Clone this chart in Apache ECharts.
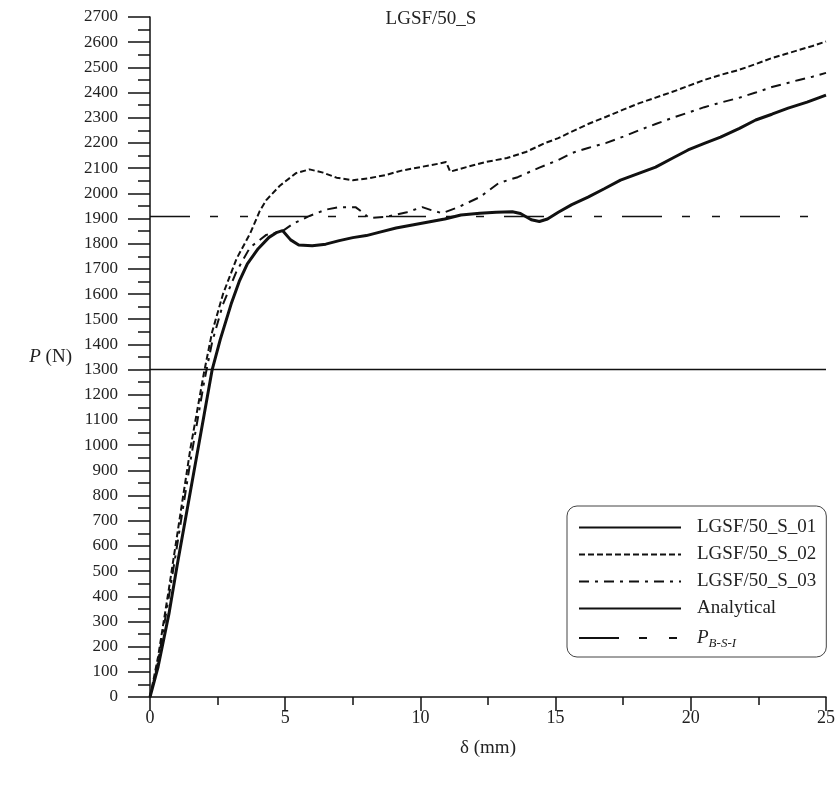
<!DOCTYPE html>
<html>
<head>
<meta charset="utf-8">
<script src="https://cdn.jsdelivr.net/npm/echarts@6/dist/echarts.min.js"></script>
<style>
html, body { margin: 0; padding: 0; background: #fff; }
#chart { width: 838px; height: 794px; }
</style>
</head>
<body>
<div id="chart"></div>
<script>
// curves, [delta (mm), P (N)]
var s01 = [[0,0],[0.3,120],[0.7,330],[1.0,520],[1.5,820],[2.0,1120],[2.3,1300],[2.6,1420],[3.0,1560],[3.3,1650],[3.6,1720],[4.0,1780],[4.4,1825],[4.7,1845],[4.9,1852],[5.2,1815],[5.5,1795],[6.0,1792],[6.5,1798],[7.0,1812],[7.5,1824],[8.0,1832],[8.5,1846],[9.1,1862],[9.7,1874],[10.3,1886],[10.9,1898],[11.5,1914],[12.2,1921],[12.8,1925],[13.4,1927],[13.7,1920],[14.1,1895],[14.4,1888],[14.7,1898],[15.1,1925],[15.6,1955],[16.2,1985],[16.8,2018],[17.4,2052],[18.1,2080],[18.7,2104],[19.3,2138],[19.9,2172],[20.5,2198],[21.1,2223],[21.8,2258],[22.4,2291],[23.0,2314],[23.6,2338],[24.3,2362],[25,2390]];
var s02 = [[0,0],[0.3,160],[0.7,430],[1.0,640],[1.5,990],[2.0,1290],[2.3,1450],[2.7,1600],[3.2,1740],[3.7,1840],[4.06,1930],[4.3,1973],[4.8,2030],[5.4,2080],[5.9,2095],[6.4,2082],[6.9,2062],[7.5,2052],[8.1,2060],[8.7,2072],[9.3,2090],[10.0,2104],[10.7,2118],[10.95,2124],[11.1,2086],[11.7,2104],[12.4,2124],[13.2,2140],[13.9,2164],[14.6,2199],[15.1,2219],[15.6,2245],[16.2,2275],[16.85,2303],[17.5,2332],[18.1,2358],[18.7,2380],[19.3,2402],[19.9,2426],[20.5,2450],[21.1,2470],[21.75,2489],[22.4,2513],[23.0,2537],[23.5,2553],[24.0,2569],[24.5,2585],[25,2603]];
var s03 = [[0,0],[0.3,140],[0.7,400],[1.0,600],[1.5,940],[2.0,1250],[2.3,1410],[2.7,1560],[3.2,1690],[3.7,1785],[4.3,1835],[4.9,1850],[5.3,1880],[5.9,1910],[6.5,1935],[7.0,1945],[7.6,1945],[7.85,1925],[8.1,1902],[8.7,1906],[9.5,1925],[10.07,1945],[10.4,1933],[10.8,1921],[11.4,1945],[12.2,1985],[12.9,2041],[13.6,2064],[14.4,2102],[15.1,2132],[15.6,2160],[16.2,2180],[16.85,2199],[17.5,2225],[18.1,2251],[18.7,2275],[19.3,2299],[19.9,2320],[20.5,2342],[21.1,2360],[21.75,2378],[22.4,2400],[23.0,2422],[23.5,2436],[24.0,2450],[24.5,2463],[25,2478]];
var analytical = [[0,1300],[25,1300]];
var pbsi = [[0,1908],[25,1908]];
var seriesNames = ['LGSF/50_S_01','LGSF/50_S_02','LGSF/50_S_03','Analytical','PBSI'];

var serif = '"Liberation Serif", "DejaVu Serif", serif';
var ink = '#111';

var chart = echarts.init(document.getElementById('chart'));

function lineSeries(name, data, width, type){
	return {
		name: name,
		type: 'line',
		data: data,
		symbol: 'none',
		silent: true,
		animation: false,
		itemStyle: { color: ink },
		lineStyle: { color: ink, width: width, type: type }
	};
}

chart.setOption({
	backgroundColor: '#fff',
	title: {
		text: 'LGSF/50_S',
		left: 426,
		textAlign: 'center',
		top: 5,
		textStyle: { fontFamily: serif, fontSize: 19, fontWeight: 'normal', color: '#222' }
	},
	grid: { left: 150, right: 10, top: 17, bottom: 97 },
	legend: {
		orient: 'vertical',
		left: 567,
		top: 506,
		padding: [12, 10, 7, 11],
		itemWidth: 102,
		itemHeight: 14,
		itemGap: 8,
		borderColor: '#444',
		borderWidth: 1,
		borderRadius: 10,
		itemStyle: { opacity: 0 },
		data: seriesNames,
		formatter: function(name){
			if(name == 'PBSI'){
				return '{p|P}{s|B-S-I}';
			}
			return name;
		},
		textStyle: {
			fontFamily: serif,
			fontSize: 19,
			lineHeight: 18,
			color: '#222',
			padding: [0, 0, 0, 11],
			rich: {
				p: { fontFamily: serif, fontSize: 19, lineHeight: 24, fontStyle: 'italic', color: '#222' },
				s: { fontFamily: serif, fontSize: 13, lineHeight: 24, fontStyle: 'italic', color: '#222', verticalAlign: 'bottom' }
			}
		}
	},
	xAxis: {
		type: 'value',
		min: 0,
		max: 25,
		interval: 5,
		name: 'δ (mm)',
		nameLocation: 'middle',
		nameGap: 42,
		nameTextStyle: { fontFamily: serif, fontSize: 19, color: '#222' },
		axisLine: { lineStyle: { color: ink, width: 1.5 } },
		axisTick: { length: 14, lineStyle: { color: ink, width: 1.5 } },
		minorTick: { show: true, splitNumber: 2, length: 8, lineStyle: { color: ink, width: 1.5 } },
		axisLabel: { fontFamily: serif, fontSize: 18, color: '#222', margin: 12 },
		splitLine: { show: false }
	},
	yAxis: {
		type: 'value',
		min: 0,
		max: 2700,
		interval: 100,
		name: '{i|P} (N)',
		nameLocation: 'middle',
		nameRotate: 0,
		nameGap: 78,
		nameTextStyle: {
			fontFamily: serif, fontSize: 19, color: '#222',
			rich: { i: { fontFamily: serif, fontSize: 19, fontStyle: 'italic', color: '#222' } }
		},
		axisLine: { show: true, lineStyle: { color: ink, width: 1.5 } },
		axisTick: { length: 22, lineStyle: { color: ink, width: 1.5 } },
		minorTick: { show: true, splitNumber: 2, length: 12, lineStyle: { color: ink, width: 1.5 } },
		axisLabel: {
			fontFamily: serif, fontSize: 17, color: '#222', margin: 32,
			formatter: function(v){ return String(v); }
		},
		splitLine: { show: false }
	},
	series: [
		lineSeries('LGSF/50_S_01', s01, 3, 'solid'),
		lineSeries('LGSF/50_S_02', s02, 2, [6, 3]),
		lineSeries('LGSF/50_S_03', s03, 2, [10, 6, 3, 6]),
		lineSeries('Analytical', analytical, 1.5, 'solid'),
		lineSeries('PBSI', pbsi, 1.5, [40, 20, 8, 22, 8, 20])
	]
});
</script>
</body>
</html>
